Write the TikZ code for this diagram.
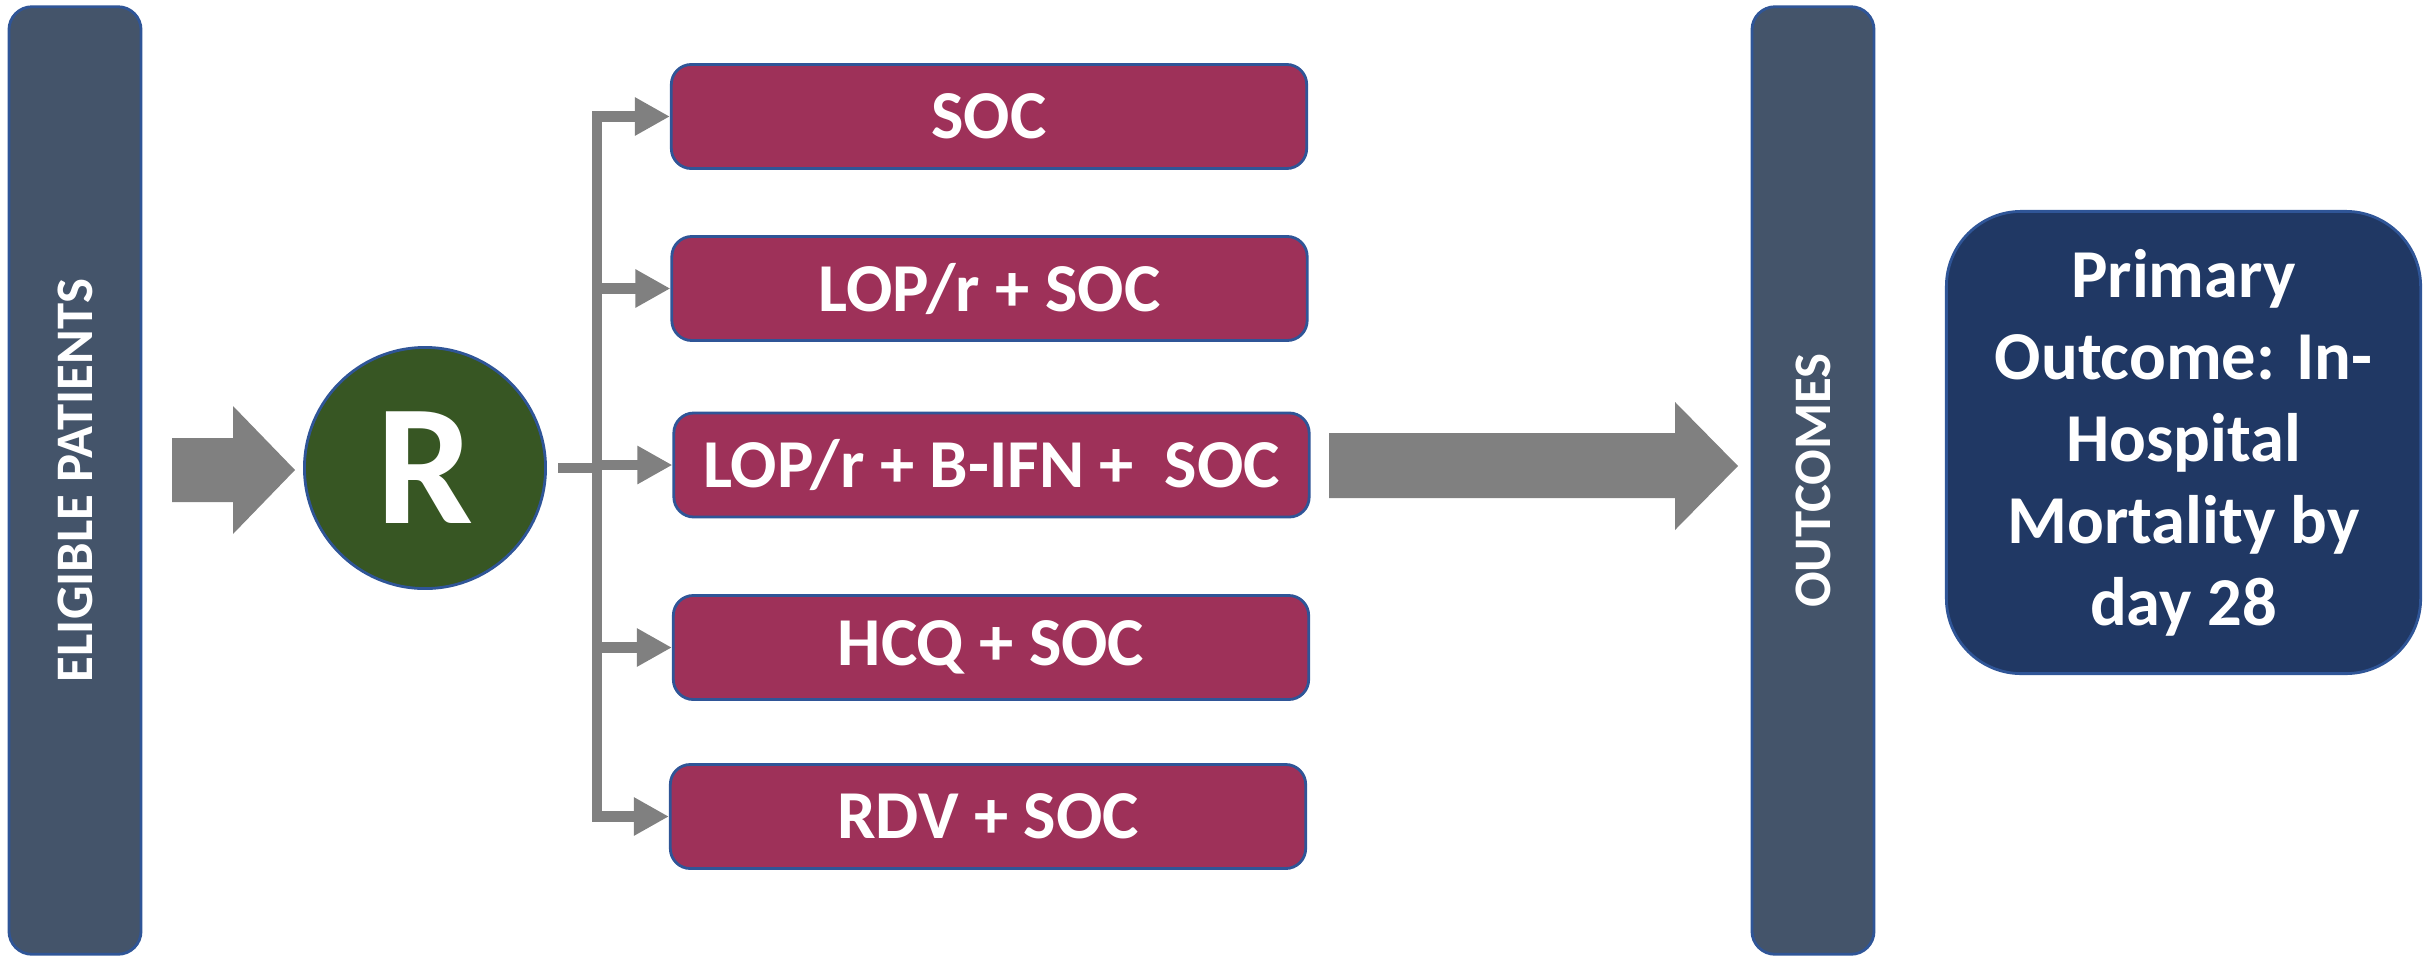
\documentclass[tikz,border=0pt]{standalone}
\usepackage{fontspec}
\usepackage{graphicx}
\setmainfont{Carlito}
\usetikzlibrary{arrows.meta,calc}
\definecolor{barfill}{HTML}{44546A}
\definecolor{edgeblue}{HTML}{2F5597}
\definecolor{rgreen}{HTML}{375623}
\definecolor{armfill}{HTML}{9E3159}
\definecolor{navyfill}{HTML}{203864}
\definecolor{arrowgray}{HTML}{808080}
\begin{document}
\begin{tikzpicture}[x=0.01cm,y=-0.01cm,
  bar/.style={draw=edgeblue, line width=0.8pt, fill=barfill, rounded corners=0.23cm,
    minimum width=#1, minimum height=9.47cm, inner sep=0pt, text=white,
    font=\bfseries\fontsize{15}{18}\selectfont},
  rnode/.style={circle, draw=edgeblue, line width=0.8pt, fill=rgreen, minimum size=2.41cm,
    inner sep=0pt, text=white, font=\bfseries\fontsize{49}{50}\selectfont},
  arm/.style={draw=edgeblue, line width=0.8pt, fill=armfill, rounded corners=0.2cm,
    minimum width=6.35cm, minimum height=1.04cm, inner sep=0pt, text=white,
    font=\bfseries\fontsize{19.5}{23}\selectfont},
  prim/.style={draw=edgeblue, line width=0.8pt, fill=navyfill, rounded corners=0.75cm,
    minimum width=4.74cm, minimum height=4.62cm, inner sep=0pt, align=center, text=white,
    font=\bfseries\fontsize{19.5}{23.3}\selectfont},
  fatarrow/.style={fill=arrowgray},
  branch/.style={draw=arrowgray, line width=3pt},
  tipped/.style={-{Triangle[length=0.35cm,width=0.36cm]}}
]
\useasboundingbox (0,0) rectangle (2430,957);

% bars
\node[bar=1.32cm] (elig) at (75,480.5) {\rotatebox{90}{ELIGIBLE PATIENTS}};
\node[bar=1.22cm] (outc) at (1813,480.5) {\rotatebox{90}{OUTCOMES}};

% randomisation
\node[rnode] (R) at (425,468) {R};

% arms
\node[arm] (b1) at (989,116.5) {SOC};
\node[arm] (b2) at (989.5,288.5) {LOP/r + SOC};
\node[arm] (b3) at (991.5,465) {LOP/r + B-IFN + \ SOC};
\node[arm] (b4) at (991,647.5) {HCQ + SOC};
\node[arm] (b5) at (988,816.5) {RDV + SOC};

% primary outcome
\node[prim] (prim) at (2183.5,442.5) {Primary\\Outcome: In-\\Hospital\\Mortality by\\day 28};

% fat arrows
\fill[fatarrow] (172,438) -- (233,438) -- (233,406) -- (295,470) -- (233,534) -- (233,502) -- (172,502) -- cycle;
\fill[fatarrow] (1329,433) -- (1675,433) -- (1675,402) -- (1738,466) -- (1675,530) -- (1675,498) -- (1329,498) -- cycle;

% branching connectors
\coordinate (split) at (558,468);
\coordinate (trunk) at (597,468);
\draw[branch] (split) -- (trunk);
\draw[branch,tipped] (trunk |- b5.west) -- (trunk |- b1.west) -- (b1.west);
\draw[branch,tipped] (trunk |- b1.west) -- (trunk |- b5.west) -- (b5.west);
\draw[branch,tipped] (trunk |- b2.west) -- (b2.west);
\draw[branch,tipped] (trunk |- b3.west) -- (b3.west);
\draw[branch,tipped] (trunk |- b4.west) -- (b4.west);
\end{tikzpicture}
\end{document}
